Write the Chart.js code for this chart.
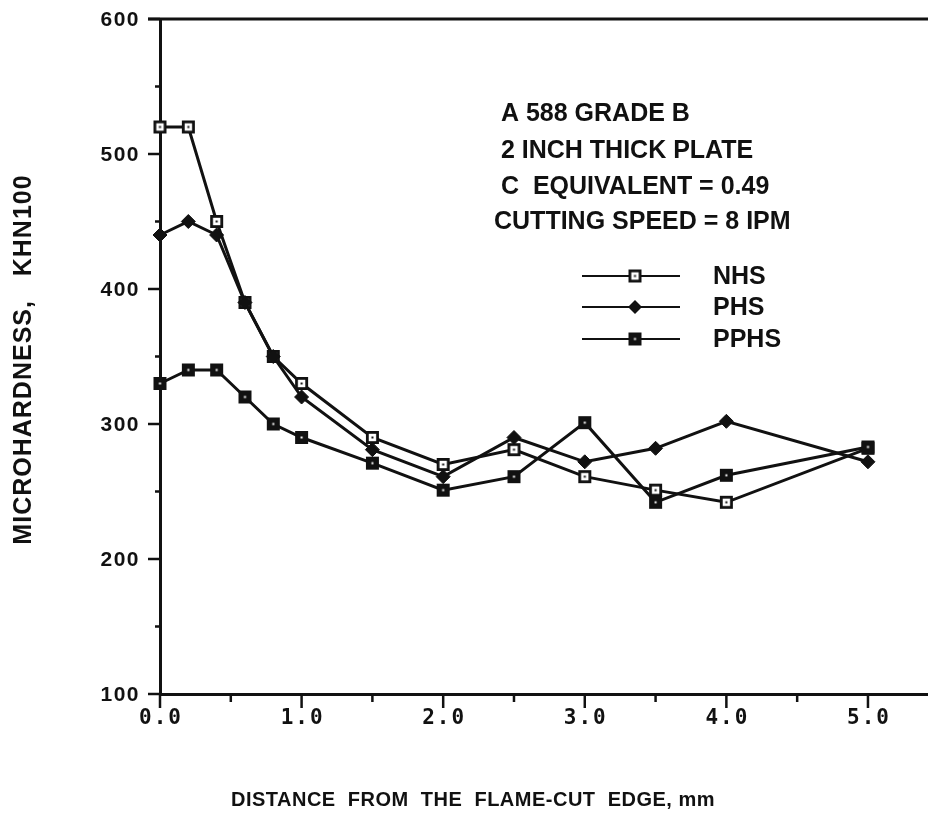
<!DOCTYPE html>
<html>
<head>
<meta charset="utf-8">
<script src="https://cdn.jsdelivr.net/npm/chart.js@4.4.1/dist/chart.umd.min.js"></script>
<style>
  html, body { margin: 0; padding: 0; background: #fff; }
  #chart { display: block; }
</style>
</head>
<body>
<canvas id="chart" width="928" height="821"></canvas>
<script>
// distance from the flame-cut edge (mm)
const distance = [0, 0.2, 0.4, 0.6, 0.8, 1.0, 1.5, 2.0, 2.5, 3.0, 3.5, 4.0, 5.0];

// microhardness KHN100
const nhs  = [520, 520, 450, 390, 350, 330, 290, 270, 281, 261, 251, 242, 282];
const phs  = [440, 450, 440, 390, 350, 320, 281, 261, 290, 272, 282, 302, 272];
const pphs = [330, 340, 340, 320, 300, 290, 271, 251, 261, 301, 242, 262, 283];

const seriesNames = ["NHS", "PHS", "PPHS"];

const xTickValues = [0, 1, 2, 3, 4, 5];
const xTickLabels = ["0.0", "1.0", "2.0", "3.0", "4.0", "5.0"];
const xMinorValues = [0.5, 1.5, 2.5, 3.5, 4.5];
const yTickValues = [100, 200, 300, 400, 500, 600];
const yTickLabels = ["100", "200", "300", "400", "500", "600"];
const yMinorValues = [150, 250, 350, 450, 550];

const noteLines = [
  " A 588 GRADE B",
  " 2 INCH THICK PLATE",
  " C  EQUIVALENT = 0.49",
  "CUTTING SPEED = 8 IPM"
];

const ink = "#111";

// marker images, drawn once
function makeSquare(filled) {
  const c = document.createElement("canvas");
  c.width = 15;
  c.height = 15;
  const g = c.getContext("2d");
  if (filled) {
    g.fillStyle = ink;
    g.fillRect(1, 1, 13, 13);
    g.fillStyle = "#fff";
    g.fillRect(6.5, 6.5, 2, 2);
  } else {
    g.fillStyle = "#fff";
    g.fillRect(1, 1, 13, 13);
    g.strokeStyle = ink;
    g.lineWidth = 2.8;
    g.strokeRect(2.4, 2.4, 10.2, 10.2);
    g.fillStyle = ink;
    g.fillRect(6.5, 6.5, 2, 2);
  }
  return c;
}

const openSquare = makeSquare(false);
const solidSquare = makeSquare(true);

function toPoints(values) {
  return values.map((v, i) => ({ x: distance[i], y: v }));
}

function drawDiamond(ctx, x, y, r) {
  ctx.beginPath();
  ctx.moveTo(x, y - r);
  ctx.lineTo(x + r, y);
  ctx.lineTo(x, y + r);
  ctx.lineTo(x - r, y);
  ctx.closePath();
  ctx.fill();
}

function hLine(ctx, x1, y1, x2, y2) {
  ctx.beginPath();
  ctx.moveTo(x1, y1);
  ctx.lineTo(x2, y2);
  ctx.stroke();
}

// ticks, labels, titles, note and legend in the style of the old figure
const paperPlugin = {
  id: "paper",
  afterDraw(chart) {
    const ctx = chart.ctx;
    const xs = chart.scales.x;
    const ys = chart.scales.y;
    const area = chart.chartArea;

    ctx.save();
    ctx.strokeStyle = ink;
    ctx.fillStyle = ink;

    // top frame line
    ctx.lineWidth = 3;
    hLine(ctx, area.left - 12, area.top, chart.width, area.top);

    // tick marks
    ctx.lineWidth = 2.5;
    xTickValues.forEach(v => {
      const px = xs.getPixelForValue(v);
      hLine(ctx, px, area.bottom, px, area.bottom + 14);
    });
    xMinorValues.forEach(v => {
      const px = xs.getPixelForValue(v);
      hLine(ctx, px, area.bottom, px, area.bottom + 8);
    });
    yTickValues.forEach(v => {
      const py = ys.getPixelForValue(v);
      hLine(ctx, area.left - 12, py, area.left, py);
    });
    yMinorValues.forEach(v => {
      const py = ys.getPixelForValue(v);
      hLine(ctx, area.left - 5, py, area.left, py);
    });

    // tick labels
    ctx.textBaseline = "middle";
    ctx.textAlign = "center";
    ctx.font = 'bold 21px "DejaVu Sans Mono"';
    ctx.letterSpacing = "2px";
    xTickValues.forEach((v, i) => {
      ctx.fillText(xTickLabels[i], xs.getPixelForValue(v) + 1, area.bottom + 25);
    });

    ctx.textAlign = "right";
    ctx.font = 'bold 21px "Liberation Sans"';
    ctx.letterSpacing = "1.5px";
    yTickValues.forEach((v, i) => {
      ctx.fillText(yTickLabels[i], area.left - 20, ys.getPixelForValue(v) + 1);
    });

    // axis titles
    ctx.textAlign = "center";
    ctx.font = 'bold 20px "Liberation Sans"';
    ctx.letterSpacing = "0.5px";
    ctx.fillText("DISTANCE  FROM  THE  FLAME-CUT  EDGE, mm", 473, 800);

    ctx.save();
    ctx.translate(24, (area.top + area.bottom) / 2 + 3);
    ctx.rotate(-Math.PI / 2);
    ctx.font = 'bold 25px "Liberation Sans"';
    ctx.letterSpacing = "1px";
    ctx.fillText("MICROHARDNESS,   KHN100", 0, 0);
    ctx.restore();

    // note block
    ctx.textAlign = "left";
    ctx.font = 'bold 25px "Liberation Sans"';
    ctx.letterSpacing = "0px";
    const noteY = [114, 151, 187, 222];
    noteLines.forEach((t, i) => ctx.fillText(t, 494, noteY[i]));

    // legend
    const legendY = [276, 307, 339];
    legendY.forEach((y, i) => {
      ctx.lineWidth = 2;
      hLine(ctx, 582, y, 680, y);
      if (i === 0) ctx.drawImage(openSquare, 635 - 7.5, y - 7.5);
      if (i === 1) drawDiamond(ctx, 635, y, 7);
      if (i === 2) ctx.drawImage(solidSquare, 635 - 7.5, y - 7.5);
      ctx.fillText(seriesNames[i], 713, y + 1);
    });

    ctx.restore();
  }
};

const ctx = document.getElementById("chart").getContext("2d");

new Chart(ctx, {
  type: "line",
  data: {
    datasets: [
      {
        label: seriesNames[0],
        data: toPoints(nhs),
        borderColor: ink,
        borderWidth: 3,
        pointStyle: openSquare,
        order: 2,
        clip: false
      },
      {
        label: seriesNames[1],
        data: toPoints(phs),
        borderColor: ink,
        backgroundColor: ink,
        borderWidth: 3,
        pointStyle: "rectRot",
        pointRadius: 7,
        pointBorderWidth: 1,
        order: 1,
        clip: false
      },
      {
        label: seriesNames[2],
        data: toPoints(pphs),
        borderColor: ink,
        borderWidth: 3,
        pointStyle: solidSquare,
        order: 0,
        clip: false
      }
    ]
  },
  options: {
    responsive: false,
    animation: false,
    tension: 0,
    layout: {
      autoPadding: false,
      padding: { top: 19, right: 0, left: 0, bottom: 0 }
    },
    plugins: {
      legend: { display: false },
      tooltip: { enabled: false }
    },
    scales: {
      x: {
        type: "linear",
        min: 0,
        max: 5.424,
        grid: { display: false },
        border: { display: true, color: ink, width: 3 },
        ticks: { display: false },
        afterFit(scale) { scale.height = 127; }
      },
      y: {
        min: 100,
        max: 600,
        grid: { display: false },
        border: { display: true, color: ink, width: 3 },
        ticks: { display: false },
        afterFit(scale) { scale.width = 160; }
      }
    }
  },
  plugins: [paperPlugin]
});
</script>
</body>
</html>
